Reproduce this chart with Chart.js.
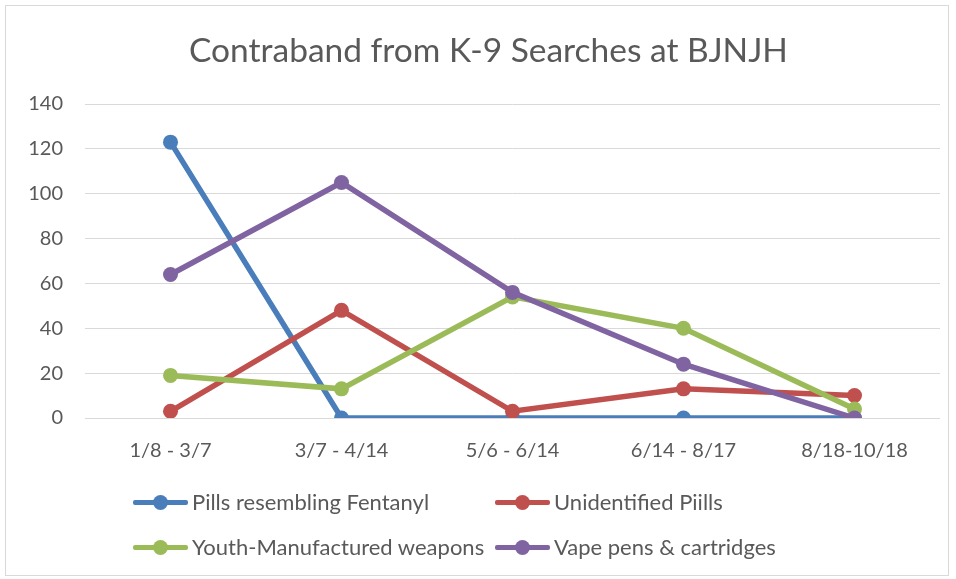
<!DOCTYPE html>
<html>
<head>
<meta charset="utf-8">
<script src="https://cdn.jsdelivr.net/npm/chart.js@4.4.0/dist/chart.umd.min.js"></script>
<style>
  html, body { margin: 0; padding: 0; background: #fff; }
  #wrap { position: relative; width: 956px; height: 579px; }
  #frame { position: absolute; left: 5px; top: 5px; width: 944px; height: 571px; border: 1px solid #d9d9d9; box-sizing: border-box; pointer-events: none; }
  #title { position: absolute; left: 0; width: 977px; top: 29px; text-align: center; font-family: Lato, "Open Sans", sans-serif; font-size: 33.5px; line-height: 40px; color: #595959; }
  #legend { position: absolute; left: 133px; top: 0; font-family: Lato, "Open Sans", sans-serif; font-size: 22px; color: #595959; }
  .item { position: absolute; display: flex; align-items: center; white-space: nowrap; height: 30px; line-height: 30px; }
  .swatch { position: relative; width: 55px; height: 15px; margin-right: 4px; }
  .swatch .ln { position: absolute; left: 0; right: 0; top: 5px; height: 5px; border-radius: 2px; }
  .swatch .dot { position: absolute; left: 20px; top: 0; width: 15px; height: 15px; border-radius: 50%; }
</style>
</head>
<body>
<div id="wrap">
  <canvas id="contrabandChart" width="956" height="579"></canvas>
  <div id="frame"></div>
  <div id="title">Contraband from K-9 Searches at BJNJH</div>
  <div id="legend"></div>
</div>
<script>
// Dati del grafico
const periods = ['1/8 - 3/7', '3/7 - 4/14', '5/6 - 6/14', '6/14 - 8/17', '8/18-10/18'];
const fentanylPills = [123, 0, 0, 0, 0];
const unidentifiedPills = [3, 48, 3, 13, 10];
const youthWeapons = [19, 13, 54, 40, 4];
const vapePens = [64, 105, 56, 24, 0];

const seriesNames = ['Pills resembling Fentanyl', 'Unidentified Piills', 'Youth-Manufactured weapons', 'Vape pens & cartridges'];
const seriesColors = ['#4a7ebb', '#c0504d', '#9bbb59', '#8064a2'];
const seriesData = [fentanylPills, unidentifiedPills, youthWeapons, vapePens];

const FONT = 'Lato, "Open Sans", sans-serif';
const GREY = '#595959';

const datasets = seriesData.map((values, i) => ({
    label: seriesNames[i],
    data: values,
    borderColor: seriesColors[i],
    backgroundColor: seriesColors[i],
    borderWidth: 5.5,
    pointRadius: 7.5,
    pointHoverRadius: 7.5,
    pointBorderWidth: 0,
    tension: 0,
    order: 4 - i
}));

new Chart(document.getElementById('contrabandChart'), {
    type: 'line',
    data: { labels: periods, datasets: datasets },
    options: {
        responsive: false,
        animation: false,
        layout: { padding: { left: 5, right: 16, top: 104, bottom: 111 } },
        plugins: {
            legend: { display: false },
            tooltip: { enabled: false },
            title: { display: false }
        },
        scales: {
            x: {
                offset: true,
                grid: { display: false },
                border: { display: false },
                ticks: { color: GREY, font: { family: FONT, size: 20 }, padding: 13, maxRotation: 0 },
                afterFit: s => { s.height = 50; }
            },
            y: {
                min: 0,
                max: 140,
                ticks: { stepSize: 20, color: GREY, font: { family: FONT, size: 20 }, padding: 22 },
                grid: { color: '#d9d9d9', lineWidth: 1, drawTicks: false },
                border: { display: false },
                afterFit: s => { s.width = 80; }
            }
        }
    }
});

// Legenda HTML a due colonne (centri riga a y 502 e 547)
const legend = document.getElementById('legend');
const cols = [0, 362];
const rows = [487, 532];
seriesNames.forEach((name, i) => {
    const item = document.createElement('div');
    item.className = 'item';
    item.style.left = cols[i % 2] + 'px';
    item.style.top = rows[Math.floor(i / 2)] + 'px';
    item.innerHTML = '<div class="swatch"><div class="ln" style="background:' + seriesColors[i] +
        '"></div><div class="dot" style="background:' + seriesColors[i] + '"></div></div><span>' + name + '</span>';
    legend.appendChild(item);
});
</script>
</body>
</html>
